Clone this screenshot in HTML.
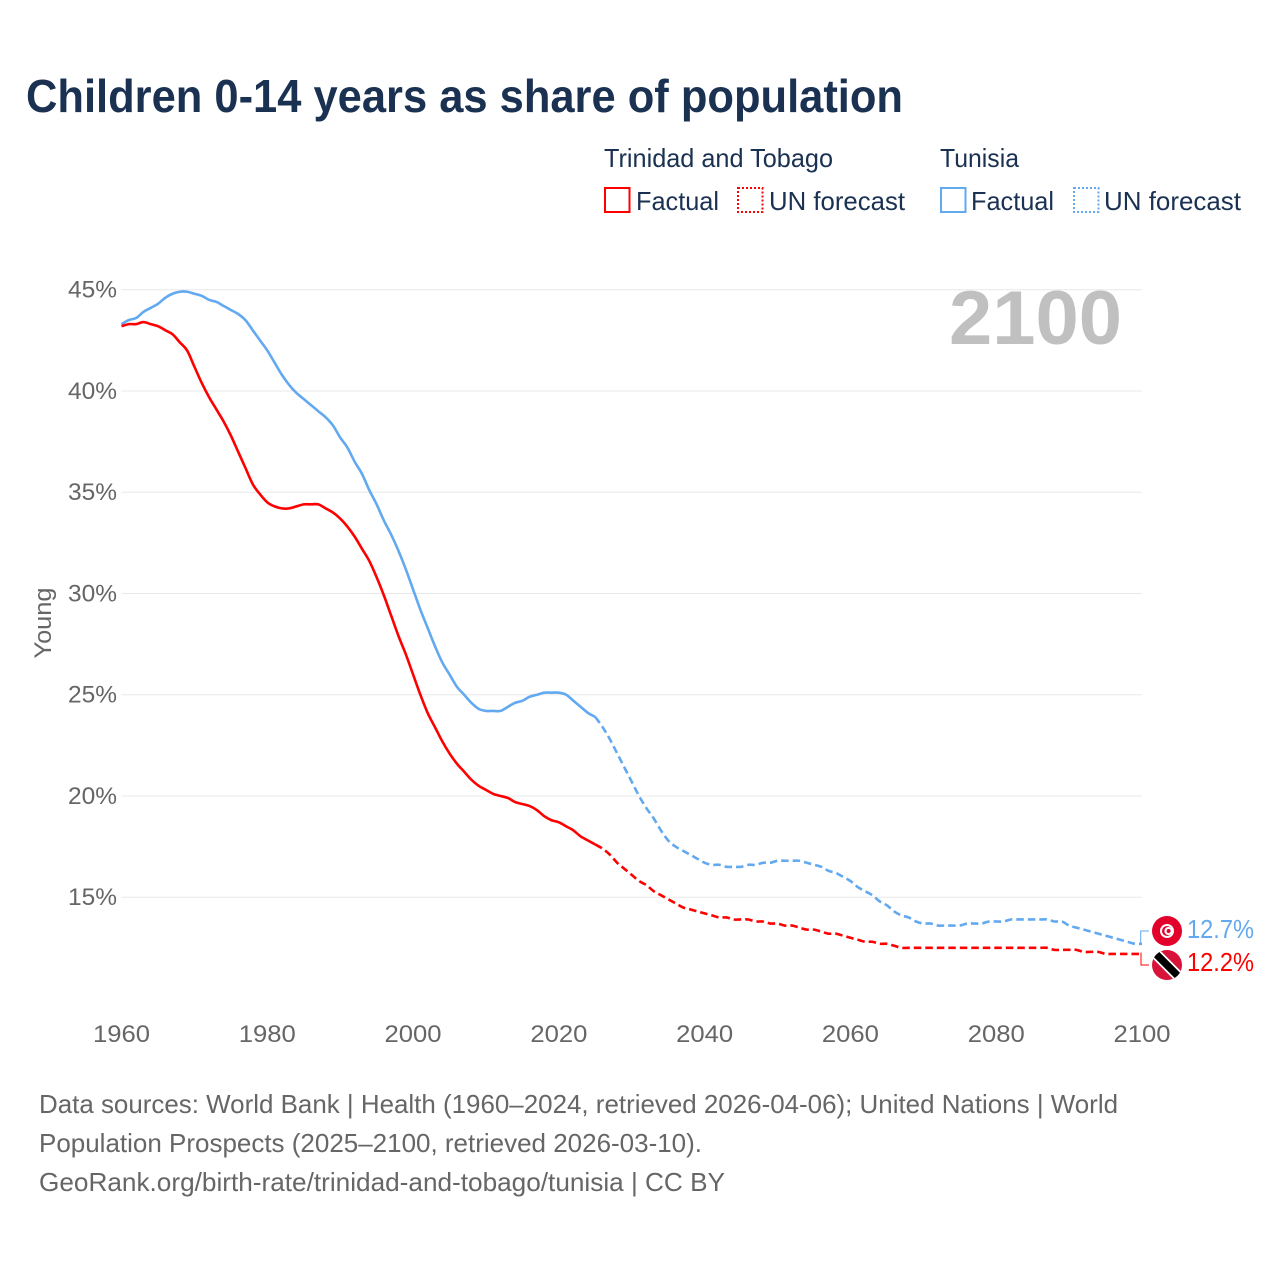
<!DOCTYPE html>
<html lang="en">
<head>
<meta charset="utf-8">
<title>Children 0-14 years as share of population</title>
<style>
html,body{margin:0;padding:0;background:#fff;width:1280px;height:1280px;overflow:hidden}
svg{display:block}
text{font-family:"Liberation Sans",sans-serif}
.title{font-size:46px;font-weight:700;fill:#1a3152}
.leg{font-size:26px;fill:#1a3152}
.tick{font-size:24px;fill:#666}
.foot{font-size:26px;fill:#666}
.val{font-size:26px}
</style>
</head>
<body>
<svg id="chart" xmlns="http://www.w3.org/2000/svg" width="1280" height="1280" viewBox="0 0 1280 1280">
  <rect x="0" y="0" width="1280" height="1280" fill="#fff"/>
  <text class="title" x="26" y="112" textLength="877" lengthAdjust="spacingAndGlyphs">Children 0-14 years as share of population</text>

  <g>
    <text class="leg" x="604" y="167" textLength="229" lengthAdjust="spacingAndGlyphs">Trinidad and Tobago</text>
    <text class="leg" x="940" y="167" textLength="79" lengthAdjust="spacingAndGlyphs">Tunisia</text>
    <rect x="605" y="188" width="24.5" height="24" fill="none" stroke="#ff0000" stroke-width="2"/>
    <text class="leg" x="636" y="210" textLength="83" lengthAdjust="spacingAndGlyphs">Factual</text>
    <rect x="738" y="188" width="24.5" height="24" fill="none" stroke="#ff0000" stroke-width="2" stroke-dasharray="2 2"/>
    <text class="leg" x="769" y="210" textLength="136" lengthAdjust="spacingAndGlyphs">UN forecast</text>
    <rect x="941" y="188" width="24.5" height="24" fill="none" stroke="#62a9f0" stroke-width="2"/>
    <text class="leg" x="971" y="210" textLength="83" lengthAdjust="spacingAndGlyphs">Factual</text>
    <rect x="1074" y="188" width="24.5" height="24" fill="none" stroke="#62a9f0" stroke-width="2" stroke-dasharray="2 2"/>
    <text class="leg" x="1104" y="210" textLength="137" lengthAdjust="spacingAndGlyphs">UN forecast</text>
  </g>

  <g id="grid"></g>
  <g id="yticks"></g>
  <g id="xticks"></g>

  <text class="tick" transform="translate(51 623) rotate(-90)" text-anchor="middle" textLength="71" lengthAdjust="spacingAndGlyphs">Young</text>
  <text x="949" y="344" font-size="76" font-weight="700" fill="#c0c0c0" textLength="173" lengthAdjust="spacingAndGlyphs">2100</text>

  <g id="lines"></g>

  <g>
    <polyline points="1140.7,943 1140.7,931 1149,931" fill="none" stroke="#62a9f0" stroke-width="1"/>
    <polyline points="1141,952.5 1141,965 1149,965" fill="none" stroke="#ff0000" stroke-width="1"/>

    <g>
      <circle cx="1167" cy="931" r="15" fill="#e3002b"/>
      <circle cx="1167" cy="931" r="7" fill="#fff"/>
      <circle cx="1167" cy="931" r="5" fill="#e3002b"/>
      <circle cx="1168.4" cy="931" r="4" fill="#fff"/>
      <circle cx="1168.6" cy="931" r="2" fill="#e3002b"/>
    </g>
    <clipPath id="ttclip"><circle cx="1167" cy="965" r="15"/></clipPath>
    <g clip-path="url(#ttclip)">
      <rect x="1150" y="948" width="34" height="34" fill="#d8133a"/>
      <line x1="1152" y1="950" x2="1182" y2="980" stroke="#fff" stroke-width="11"/>
      <line x1="1152" y1="950" x2="1182" y2="980" stroke="#000" stroke-width="7.5"/>
    </g>

    <text class="val" x="1187" y="938" fill="#62a9f0" textLength="67" lengthAdjust="spacingAndGlyphs">12.7%</text>
    <text class="val" x="1187" y="971" fill="#ff0000" textLength="67" lengthAdjust="spacingAndGlyphs">12.2%</text>
  </g>

  <g>
    <text class="foot" x="39" y="1113" textLength="1079" lengthAdjust="spacingAndGlyphs">Data sources: World Bank | Health (1960–2024, retrieved 2026-04-06); United Nations | World</text>
    <text class="foot" x="39" y="1152" textLength="663" lengthAdjust="spacingAndGlyphs">Population Prospects (2025–2100, retrieved 2026-03-10).</text>
    <text class="foot" x="39" y="1191" textLength="686" lengthAdjust="spacingAndGlyphs">GeoRank.org/birth-rate/trinidad-and-tobago/tunisia | CC BY</text>
  </g>
</svg>

<script>
const yTickValues = [45, 40, 35, 30, 25, 20, 15];
const xTickValues = [1960, 1980, 2000, 2020, 2040, 2060, 2080, 2100];

const factualYears = [1960,1961,1962,1963,1964,1965,1966,1967,1968,1969,1970,1971,1972,1973,1974,1975,1976,1977,1978,1979,1980,1981,1982,1983,1984,1985,1986,1987,1988,1989,1990,1991,1992,1993,1994,1995,1996,1997,1998,1999,2000,2001,2002,2003,2004,2005,2006,2007,2008,2009,2010,2011,2012,2013,2014,2015,2016,2017,2018,2019,2020,2021,2022,2023,2024,2025];
const forecastYears = [2025,2026,2027,2028,2029,2030,2031,2032,2033,2034,2035,2036,2037,2038,2039,2040,2041,2042,2043,2044,2045,2046,2047,2048,2049,2050,2051,2052,2053,2054,2055,2056,2057,2058,2059,2060,2061,2062,2063,2064,2065,2066,2067,2068,2069,2070,2071,2072,2073,2074,2075,2076,2077,2078,2079,2080,2081,2082,2083,2084,2085,2086,2087,2088,2089,2090,2091,2092,2093,2094,2095,2096,2097,2098,2099,2100];

const trinidadFactual = [43.2,43.3,43.3,43.4,43.3,43.2,43.0,42.8,42.4,42.0,41.2,40.4,39.7,39.1,38.5,37.8,37.0,36.2,35.4,34.9,34.5,34.3,34.2,34.2,34.3,34.4,34.4,34.4,34.2,34.0,33.7,33.3,32.8,32.2,31.6,30.8,29.9,28.9,27.9,27.0,26.0,25.0,24.1,23.4,22.7,22.1,21.6,21.2,20.8,20.5,20.3,20.1,20.0,19.9,19.7,19.6,19.5,19.3,19.0,18.8,18.7,18.5,18.3,18.0,17.8,17.6];
const trinidadForecast = [17.6,17.4,17.1,16.7,16.4,16.1,15.8,15.6,15.3,15.1,14.9,14.7,14.5,14.4,14.3,14.2,14.1,14.0,14.0,13.9,13.9,13.9,13.8,13.8,13.7,13.7,13.6,13.6,13.5,13.4,13.4,13.3,13.2,13.2,13.1,13.0,12.9,12.8,12.8,12.7,12.7,12.6,12.5,12.5,12.5,12.5,12.5,12.5,12.5,12.5,12.5,12.5,12.5,12.5,12.5,12.5,12.5,12.5,12.5,12.5,12.5,12.5,12.5,12.4,12.4,12.4,12.4,12.3,12.3,12.3,12.2,12.2,12.2,12.2,12.2,12.2];
const tunisiaFactual = [43.3,43.5,43.6,43.9,44.1,44.3,44.6,44.8,44.9,44.9,44.8,44.7,44.5,44.4,44.2,44.0,43.8,43.5,43.0,42.5,42.0,41.4,40.8,40.3,39.9,39.6,39.3,39.0,38.7,38.3,37.7,37.2,36.5,35.9,35.1,34.4,33.6,32.9,32.1,31.2,30.2,29.2,28.3,27.4,26.6,26.0,25.4,25.0,24.6,24.3,24.2,24.2,24.2,24.4,24.6,24.7,24.9,25.0,25.1,25.1,25.1,25.0,24.7,24.4,24.1,23.9];
const tunisiaForecast = [23.9,23.4,22.8,22.1,21.4,20.7,20.0,19.4,18.9,18.3,17.8,17.5,17.3,17.1,16.9,16.7,16.6,16.6,16.5,16.5,16.5,16.6,16.6,16.7,16.7,16.8,16.8,16.8,16.8,16.7,16.6,16.5,16.3,16.2,16.0,15.8,15.5,15.3,15.1,14.8,14.6,14.3,14.1,14.0,13.8,13.7,13.7,13.6,13.6,13.6,13.6,13.7,13.7,13.7,13.8,13.8,13.8,13.9,13.9,13.9,13.9,13.9,13.9,13.8,13.8,13.6,13.5,13.4,13.3,13.2,13.1,13.0,12.9,12.8,12.7,12.7];

const SVG_NS = 'http://www.w3.org/2000/svg';
function xScale(year) { return 121.5 + (year - 1960) * (1142 - 121.5) / 140; }
function yScale(pct) { return 897.2 - (pct - 15) * 20.25; }
function pathFrom(years, values) {
  const pts = values.map(function (v, i) { return [xScale(years[i]), yScale(v)]; });
  let d = 'M' + pts[0][0].toFixed(2) + ' ' + pts[0][1].toFixed(2);
  for (let i = 0; i < pts.length - 1; i++) {
    const p0 = pts[Math.max(i - 1, 0)];
    const p1 = pts[i];
    const p2 = pts[i + 1];
    const p3 = pts[Math.min(i + 2, pts.length - 1)];
    const c1x = p1[0] + (p2[0] - p0[0]) / 6;
    const c1y = p1[1] + (p2[1] - p0[1]) / 6;
    const c2x = p2[0] - (p3[0] - p1[0]) / 6;
    const c2y = p2[1] - (p3[1] - p1[1]) / 6;
    d += ' C' + c1x.toFixed(2) + ' ' + c1y.toFixed(2) + ' ' + c2x.toFixed(2) + ' ' + c2y.toFixed(2) + ' ' + p2[0].toFixed(2) + ' ' + p2[1].toFixed(2);
  }
  return d;
}

const gridGroup = document.getElementById('grid');
const yGroup = document.getElementById('yticks');
yTickValues.forEach(function (t) {
  const ln = document.createElementNS(SVG_NS, 'line');
  
  
  ln.setAttribute('x1', xScale(1960));
  ln.setAttribute('x2', xScale(2100));
  ln.setAttribute('y1', yScale(t));
  ln.setAttribute('y2', yScale(t));
  ln.setAttribute('stroke', '#e8e8e8');
  ln.setAttribute('stroke-width', '1');
  gridGroup.appendChild(ln);
  const tx = document.createElementNS(SVG_NS, 'text');
  
  
  tx.setAttribute('class', 'tick');
  tx.setAttribute('x', 68);
  tx.setAttribute('y', yScale(t) + 8);
  tx.setAttribute('textLength', 49);
  tx.setAttribute('lengthAdjust', 'spacingAndGlyphs');
  tx.textContent = t + '%';
  yGroup.appendChild(tx);
});

const xGroup = document.getElementById('xticks');
xTickValues.forEach(function (t) {
  const tx = document.createElementNS(SVG_NS, 'text');
  
  
  tx.setAttribute('class', 'tick');
  tx.setAttribute('x', xScale(t) - 28.5);
  tx.setAttribute('y', 1042);
  tx.setAttribute('textLength', 57);
  tx.setAttribute('lengthAdjust', 'spacingAndGlyphs');
  tx.textContent = t;
  xGroup.appendChild(tx);
});

const lineGroup = document.getElementById('lines');
function addLine(name, years, values, color, dash) {
  const p = document.createElementNS(SVG_NS, 'path');
  
  
  p.setAttribute('d', pathFrom(years, values));
  p.setAttribute('fill', 'none');
  p.setAttribute('stroke', color);
  p.setAttribute('stroke-width', '2.6');
  p.setAttribute('stroke-linejoin', 'round');
  if (dash) p.setAttribute('stroke-dasharray', dash);
  lineGroup.appendChild(p);
}
addLine('line-tunisia-factual', factualYears, tunisiaFactual, '#62a9f0', '');
addLine('line-tunisia-forecast', forecastYears, tunisiaForecast, '#62a9f0', '7.5 4');
addLine('line-trinidad-factual', factualYears, trinidadFactual, '#ff0000', '');
addLine('line-trinidad-forecast', forecastYears, trinidadForecast, '#ff0000', '7.5 4');
</script>
</body>
</html>
